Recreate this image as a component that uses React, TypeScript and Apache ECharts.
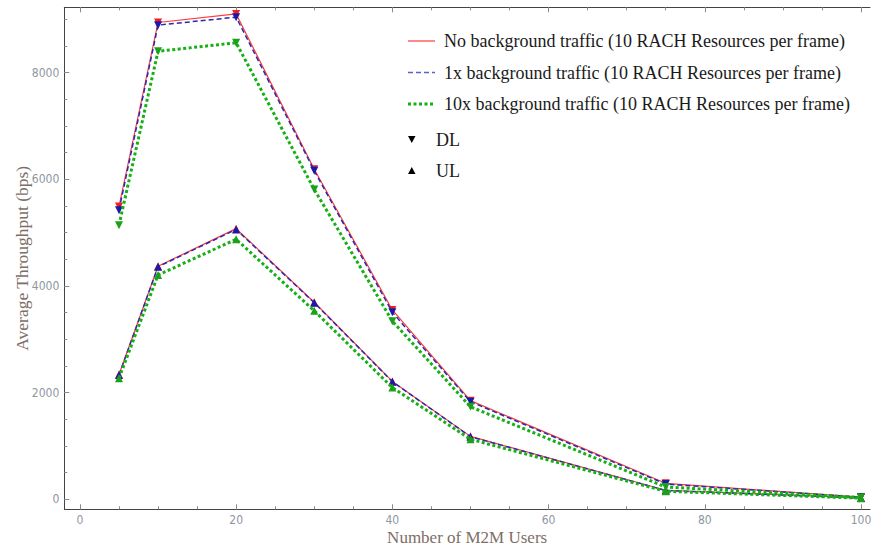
import React, { useEffect, useRef } from "react";
import * as echarts from "echarts";

// ---- Data ----
const users = [5, 10, 20, 30, 40, 50, 75, 100];

const dlNoBg = [5490, 8940, 9100, 6190, 3550, 1850, 300, 40];
const dl1x = [5420, 8890, 9040, 6160, 3505, 1830, 285, 38];
const dl10x = [5140, 8400, 8560, 5810, 3340, 1735, 230, 35];

const ulNoBg = [2340, 4370, 5075, 3695, 2210, 1180, 170, 26];
const ul1x = [2330, 4360, 5060, 3685, 2205, 1174, 165, 24];
const ul10x = [2270, 4205, 4875, 3535, 2095, 1125, 150, 22];

const legendLabels = [
  "No background traffic (10 RACH Resources per frame)",
  "1x background traffic (10 RACH Resources per frame)",
  "10x background traffic (10 RACH Resources per frame)",
];
const markerLabels = ["DL", "UL"];

const xMajorTicks = [0, 20, 40, 60, 80, 100];
const xMinorTicks = [0, 5, 10, 15, 20, 25, 30, 35, 40, 45, 50, 55, 60, 65, 70, 75, 80, 85, 90, 95, 100];
const yMajorTicks = [0, 2000, 4000, 6000, 8000];
const yMinorTicks = [0, 500, 1000, 1500, 2000, 2500, 3000, 3500, 4000, 4500, 5000, 5500, 6000, 6500, 7000, 7500, 8000, 8500, 9000];

const xTitle = "Number of M2M Users";
const yTitle = "Average Throughput (bps)";

// ---- Styles ----
const SERIF = "'Liberation Serif', 'DejaVu Serif', serif";
const NUM = "'Liberation Sans Narrow', 'DejaVu Sans Condensed', 'Liberation Sans', sans-serif";
const AXIS_LINE = "#444444";
const TICK = "#8a8a8a";
const TICK_LABEL = "#8e96a2";
const TITLE = "#7d6e66";

const styles = [
  { line: "#ff3a3a", marker: "#ff1a1a", type: "solid" as any, width: 1.2 },
  { line: "#2a2ab0", marker: "#1a1aa8", type: [5, 3] as any, width: 1.5 },
  { line: "#14b014", marker: "#1aa01a", type: [3, 2.5] as any, width: 3 },
];
const dlSets = [dlNoBg, dl1x, dl10x];
const ulSets = [ulNoBg, ul1x, ul10x];

const X_MIN = -2.0;
const X_MAX = 101.15;
const Y_MIN = -187.5;
const Y_MAX = 9225;

const plain = (v: number) => String(v);

export default function App() {
  const ref = useRef<HTMLDivElement>(null);

  useEffect(() => {
    if (!ref.current) return;
    const chart = echarts.init(ref.current, null, { renderer: "svg" });

    const series: any[] = [];
    styles.forEach((s, i) => {
      [
        { vals: dlSets[i], rot: 180, kind: "DL" },
        { vals: ulSets[i], rot: 0, kind: "UL" },
      ].forEach((d) => {
        series.push({
          name: legendLabels[i] + " " + d.kind,
          type: "line",
          xAxisIndex: 0,
          yAxisIndex: 0,
          data: users.map((u, k) => [u, d.vals[k]]),
          symbol: "triangle",
          symbolRotate: d.rot,
          symbolSize: 8,
          showSymbol: true,
          lineStyle: { color: s.line, width: s.width, type: s.type },
          itemStyle: { color: s.marker, borderWidth: 0 },
          emphasis: { disabled: true },
          z: 2 + i,
        });
      });
    });

    const legendGraphics: any[] = [];
    const rowY = [41, 72.5, 104];
    legendLabels.forEach((lab, i) => {
      const s = styles[i];
      legendGraphics.push({
        type: "line",
        shape: { x1: 408, y1: rowY[i], x2: 435, y2: rowY[i] },
        style: {
          stroke: s.line,
          lineWidth: s.width,
          lineDash: s.type === "solid" ? null : s.type,
          opacity: i === 1 ? 0.75 : 1,
        },
      });
      legendGraphics.push({
        type: "text",
        x: 444,
        y: rowY[i],
        style: {
          text: lab,
          font: `18px ${SERIF}`,
          fill: "#1a1a1a",
          verticalAlign: "middle",
          align: "left",
        },
      });
    });
    const mY = [139.5, 170.5];
    legendGraphics.push({
      type: "polygon",
      shape: { points: [[408, mY[0] - 3.5], [415.5, mY[0] - 3.5], [411.75, mY[0] + 3.5]] },
      style: { fill: "#000" },
    });
    legendGraphics.push({
      type: "polygon",
      shape: { points: [[408, mY[1] + 3.5], [415.5, mY[1] + 3.5], [411.75, mY[1] - 3.5]] },
      style: { fill: "#000" },
    });
    markerLabels.forEach((lab, i) => {
      legendGraphics.push({
        type: "text",
        x: 436,
        y: mY[i],
        style: { text: lab, font: `18px ${SERIF}`, fill: "#1a1a1a", verticalAlign: "middle", align: "left" },
      });
    });

    const commonX = { type: "value", min: X_MIN, max: X_MAX, gridIndex: 0, splitLine: { show: false } };
    const commonY = { type: "value", min: Y_MIN, max: Y_MAX, gridIndex: 0, splitLine: { show: false } };

    chart.setOption({
      animation: false,
      backgroundColor: "#ffffff",
      grid: { left: 64.3, top: 7.3, right: 2, bottom: 40.7, containLabel: false, outerBoundsMode: "none" },
      xAxis: [
        {
          ...commonX,
          position: "bottom",
          offset: 0,
          name: xTitle,
          nameLocation: "middle",
          nameGap: 20,
          nameMoveOverlap: false,
          nameTextStyle: { fontFamily: SERIF, fontSize: 17, color: TITLE },
          axisLine: { show: true, onZero: false, lineStyle: { color: AXIS_LINE, width: 1 } },
          axisTick: { show: true, inside: true, length: 3, customValues: xMinorTicks, lineStyle: { color: TICK } },
          axisLabel: { customValues: xMajorTicks, formatter: plain, color: TICK_LABEL, fontFamily: NUM, fontSize: 12, margin: 5 },
        },
        {
          ...commonX,
          position: "bottom",
          offset: 0,
          axisLine: { show: false, onZero: false },
          axisTick: { show: true, inside: true, length: 5, customValues: xMajorTicks, lineStyle: { color: TICK } },
          axisLabel: { show: false },
        },
        {
          ...commonX,
          position: "top",
          offset: 0,
          axisLine: { show: true, onZero: false, lineStyle: { color: AXIS_LINE, width: 1 } },
          axisTick: { show: true, inside: true, length: 3, customValues: xMinorTicks, lineStyle: { color: TICK } },
          axisLabel: { show: false },
        },
        {
          ...commonX,
          position: "top",
          offset: 0,
          axisLine: { show: false, onZero: false },
          axisTick: { show: true, inside: true, length: 5, customValues: xMajorTicks, lineStyle: { color: TICK } },
          axisLabel: { show: false },
        },
      ],
      yAxis: [
        {
          ...commonY,
          position: "left",
          offset: 0,
          name: yTitle,
          nameLocation: "middle",
          nameGap: 33,
          nameRotate: 90,
          nameMoveOverlap: false,
          nameTextStyle: { fontFamily: SERIF, fontSize: 17.5, color: TITLE },
          axisLine: { show: true, onZero: false, lineStyle: { color: AXIS_LINE, width: 1 } },
          axisTick: { show: true, inside: true, length: 3, customValues: yMinorTicks, lineStyle: { color: TICK } },
          axisLabel: { customValues: yMajorTicks, formatter: plain, color: TICK_LABEL, fontFamily: NUM, fontSize: 12, margin: 5 },
        },
        {
          ...commonY,
          position: "left",
          offset: 0,
          axisLine: { show: false, onZero: false },
          axisTick: { show: true, inside: true, length: 5, customValues: yMajorTicks, lineStyle: { color: TICK } },
          axisLabel: { show: false },
        },
      ],
      graphic: legendGraphics,
      series,
    });

    return () => chart.dispose();
  }, []);

  return <div ref={ref} style={{ width: 872, height: 550, position: "absolute", left: 0, top: 0 }} />;
}
